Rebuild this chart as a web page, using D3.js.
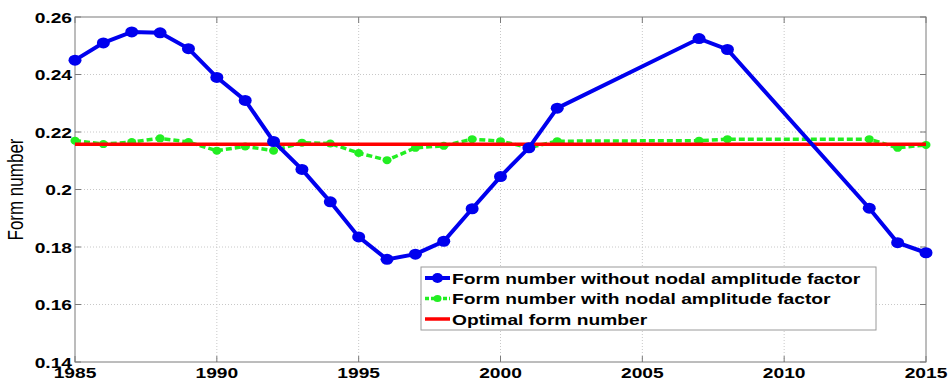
<!DOCTYPE html>
<meta charset="utf-8">
<style>
body { margin: 0; background: #fff; }
text { font-family: "Liberation Sans", Arial, sans-serif; }
.tick-label { font-weight: bold; font-size: 15px; fill: #000; }
.legend text { font-weight: bold; font-size: 15px; fill: #000; }
</style>
<svg width="951" height="382"></svg>
<script src="https://cdn.jsdelivr.net/npm/d3@7"></script>
<script>
var width = 951, height = 382;

// data
var years = [1985, 1986, 1987, 1988, 1989, 1990, 1991, 1992, 1993, 1994, 1995, 1996,
             1997, 1998, 1999, 2000, 2001, 2002, 2007, 2008, 2013, 2014, 2015];
var withoutNodal = [0.2450, 0.2510, 0.2548, 0.2545, 0.2490, 0.2390, 0.2310, 0.2167,
                    0.2070, 0.1957, 0.1835, 0.1757, 0.1775, 0.1820, 0.1933, 0.2045,
                    0.2145, 0.2283, 0.2525, 0.2487, 0.1935, 0.1815, 0.1780];
var withNodal = [0.2170, 0.2158, 0.2165, 0.2178, 0.2165, 0.2135, 0.2150, 0.2135,
                 0.2163, 0.2160, 0.2127, 0.2102, 0.2145, 0.2152, 0.2175, 0.2168,
                 0.2146, 0.2168, 0.2170, 0.2175, 0.2175, 0.2145, 0.2155];
var optimal = 0.2157;
var xTicks = [1985, 1990, 1995, 2000, 2005, 2010, 2015];
var yTicks = [0.14, 0.16, 0.18, 0.2, 0.22, 0.24, 0.26];
var legendLabels = ["Form number without nodal amplitude factor",
                    "Form number with nodal amplitude factor",
                    "Optimal form number"];

var m = {left: 75, right: 25, top: 17, bottom: 20};
var x = d3.scaleLinear().domain([1985, 2015]).range([m.left, width - m.right]);
var y = d3.scaleLinear().domain([0.14, 0.26]).range([height - m.bottom, m.top]);

var svg = d3.select("svg");
var sx = 1.28; // the original picture is stretched sideways

// grid
var grid = svg.append("g").attr("stroke", "#c8c8c8").attr("stroke-dasharray", "1,2");
grid.selectAll(".gx").data(xTicks.slice(1, -1)).enter().append("line")
    .attr("x1", x).attr("x2", x).attr("y1", y(0.14)).attr("y2", y(0.26));
grid.selectAll(".gy").data(yTicks.slice(1, -1)).enter().append("line")
    .attr("y1", y).attr("y2", y).attr("x1", x(1985)).attr("x2", x(2015));

// box + inward ticks
var frame = svg.append("g").attr("stroke", "#7a7a7a").attr("fill", "none");
frame.append("rect").attr("x", x(1985)).attr("y", y(0.26))
    .attr("width", x(2015) - x(1985)).attr("height", y(0.14) - y(0.26));
var tl = 6;
xTicks.forEach(function(t) {
  frame.append("line").attr("x1", x(t)).attr("x2", x(t)).attr("y1", y(0.14)).attr("y2", y(0.14) - tl);
  frame.append("line").attr("x1", x(t)).attr("x2", x(t)).attr("y1", y(0.26)).attr("y2", y(0.26) + tl);
});
yTicks.forEach(function(t) {
  frame.append("line").attr("y1", y(t)).attr("y2", y(t)).attr("x1", x(1985)).attr("x2", x(1985) + tl);
  frame.append("line").attr("y1", y(t)).attr("y2", y(t)).attr("x1", x(2015)).attr("x2", x(2015) - tl);
});

// tick labels
svg.selectAll(".xl").data(xTicks).enter().append("text")
    .attr("class", "tick-label")
    .attr("transform", function(d) { return "translate(" + x(d) + "," + (height - 4.5) + ") scale(" + sx + ",1)"; })
    .attr("text-anchor", "middle")
    .text(function(d) { return d; });
svg.selectAll(".yl").data(yTicks).enter().append("text")
    .attr("class", "tick-label")
    .attr("transform", function(d) { return "translate(" + (m.left - 3) + "," + (y(d) + 5.5) + ") scale(" + sx + ",1)"; })
    .attr("text-anchor", "end")
    .text(function(d) { return d3.format("")(+d.toFixed(2)); });

svg.append("text")
    .attr("transform", "translate(23," + ((y(0.14) + y(0.26)) / 2) + ") rotate(-90) scale(1," + sx + ")")
    .attr("text-anchor", "middle")
    .style("font-size", "17px")
    .text("Form number");

var line = d3.line().x(function(d) { return x(d[0]); }).y(function(d) { return y(d[1]); });
var blueData = years.map(function(d, i) { return [d, withoutNodal[i]]; });
var greenData = years.map(function(d, i) { return [d, withNodal[i]]; });

// green dashed series
svg.append("path").datum(greenData).attr("d", line)
    .attr("fill", "none").attr("stroke", "#22ee22").attr("stroke-width", 3.5)
    .attr("stroke-dasharray", "6,3");
svg.selectAll(".gm").data(greenData).enter().append("ellipse")
    .attr("cx", function(d) { return x(d[0]); }).attr("cy", function(d) { return y(d[1]); })
    .attr("rx", 4.5).attr("ry", 4).attr("fill", "#22ee22");

// red optimal
svg.append("line").attr("x1", x(1985)).attr("x2", x(2015))
    .attr("y1", y(optimal)).attr("y2", y(optimal))
    .attr("stroke", "#ff0000").attr("stroke-width", 3.5);

// blue series
svg.append("path").datum(blueData).attr("d", line)
    .attr("fill", "none").attr("stroke", "#0000ee").attr("stroke-width", 4);
svg.selectAll(".bm").data(blueData).enter().append("ellipse")
    .attr("cx", function(d) { return x(d[0]); }).attr("cy", function(d) { return y(d[1]); })
    .attr("rx", 6.5).attr("ry", 5.5).attr("fill", "#0000ee");

// legend
var lg = svg.append("g").attr("class", "legend");
lg.append("rect").attr("x", 421).attr("y", 267).attr("width", 455).attr("height", 63)
    .attr("fill", "#fff").attr("stroke", "#9a9a9a");
var styles = [
  {c: "#0000ee", w: 4, dash: null, r: 5},
  {c: "#22ee22", w: 3.5, dash: "4,2", r: 3.5},
  {c: "#ff0000", w: 3.5, dash: null, r: 0}
];
legendLabels.forEach(function(l, i) {
  var yy = 278 + i * 20.5;
  lg.append("line").attr("x1", 425).attr("x2", 450).attr("y1", yy).attr("y2", yy)
      .attr("stroke", styles[i].c).attr("stroke-width", styles[i].w)
      .attr("stroke-dasharray", styles[i].dash);
  if (styles[i].r) lg.append("ellipse").attr("cx", 437.5).attr("cy", yy)
      .attr("rx", styles[i].r + 0.5).attr("ry", styles[i].r).attr("fill", styles[i].c);
  lg.append("text").attr("transform", "translate(452," + (yy + 5.5) + ") scale(" + sx + ",1)").text(l);
});
</script>
